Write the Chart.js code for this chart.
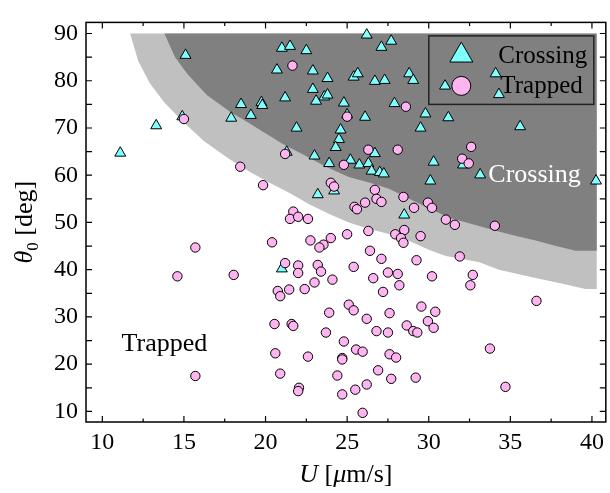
<!DOCTYPE html>
<html>
<head>
<meta charset="utf-8">
<script src="https://cdn.jsdelivr.net/npm/chart.js@4.4.0/dist/chart.umd.min.js"></script>
<style>
  html, body { margin: 0; padding: 0; background: #fff; }
  canvas { display: block; }
</style>
</head>
<body>
<canvas id="phase" width="610" height="493"></canvas>
<script>
// crossing events (triangles)
const crossingU = [11.1, 13.3, 15.1, 14.9, 17.9, 18.5, 19.1, 19.75, 19.8, 21.0, 21.5, 22.5, 20.7, 22.9, 23.8, 22.9,
  21.2, 23.6, 23.8, 23.1, 24.8, 21.9, 24.6, 24.5, 24.3, 21.3, 23.0, 23.9, 23.2, 24.2, 25.4, 25.65, 25.0, 25.2,
  25.75, 26.3, 26.5, 27.0, 27.25, 26.2, 27.1, 27.7, 26.7, 27.3, 28.8, 29.05, 27.9, 26.1, 29.8, 29.5, 31.2, 26.7,
  31.0, 34.1, 34.3, 35.6, 30.3, 32.1, 33.15, 30.1, 40.25, 28.5, 21.0];
const crossingTheta = [64.7, 70.5, 85.4, 72.4, 72.1, 75.0, 72.7, 75.4, 74.8, 86.9, 87.3, 86.4, 82.3, 82.1, 80.5, 78.2,
  76.4, 76.6, 77.0, 75.7, 75.3, 70.0, 69.6, 67.6, 65.9, 64.9, 64.1, 62.5, 55.9, 56.7, 80.8, 81.5, 72.8, 63.2,
  62.2, 62.5, 60.9, 60.6, 60.3, 89.7, 87.1, 88.4, 79.9, 80.1, 81.5, 80.1, 75.2, 72.3, 73.0, 70.0, 72.2, 64.6,
  78.9, 81.5, 77.1, 70.3, 62.8, 62.2, 60.1, 58.8, 58.8, 51.6, 40.2];

// trapped events (circles)
const trappedU = [21.65, 15.0, 18.45, 19.85, 21.2, 24.8, 25.0, 24.0, 24.2, 21.7, 21.5, 22.0, 22.6, 28.6, 26.3, 28.1,
  32.6, 32.05, 32.45, 26.7, 26.8, 27.1, 25.45, 25.6, 26.1, 28.45, 29.1, 29.95, 30.2, 31.05, 31.6, 34.05, 20.4,
  22.75, 23.55, 23.3, 24.0, 25.0, 21.2, 22.0, 22.0, 23.2, 23.4, 25.4, 24.1, 23.0, 22.4, 21.45, 20.75, 20.9, 28.5,
  29.5, 27.95, 28.3, 28.45, 26.3, 26.4, 27.1, 29.25, 31.9, 27.5, 28.1, 26.6, 30.2, 28.2, 27.2, 32.7, 32.55, 36.6,
  23.9, 25.1, 25.4, 20.55, 21.6, 21.7, 23.7, 24.8, 25.55, 20.6, 22.6, 24.7, 24.7, 20.9, 24.4, 22.05, 22.0, 24.7,
  25.5, 25.95, 26.2, 26.8, 27.5, 27.6, 29.55, 30.4, 29.95, 30.3, 28.65, 29.05, 29.3, 25.95, 27.6, 28.0, 26.9,
  27.7, 29.2, 26.2, 33.75, 34.7, 15.7, 14.6, 18.05, 15.7];
const trappedTheta = [83.2, 71.9, 61.8, 57.9, 64.5, 62.2, 72.4, 58.4, 57.6, 52.3, 50.75, 51.2, 50.75, 74.5, 65.4, 65.4,
  66.0, 63.5, 62.5, 56.9, 55.0, 54.35, 53.3, 52.8, 54.2, 55.4, 53.1, 54.2, 53.1, 50.6, 49.5, 49.3, 45.8,
  46.2, 45.3, 44.7, 46.7, 47.5, 41.4, 40.9, 39.3, 41.0, 39.6, 40.6, 37.9, 37.3, 35.9, 35.8, 35.5, 34.4, 48.4,
  47.1, 47.5, 46.7, 45.7, 48.2, 44.0, 42.3, 42.0, 42.8, 39.4, 39.1, 38.2, 38.6, 36.7, 35.3, 38.9, 36.7, 33.4,
  30.9, 32.6, 31.4, 28.5, 28.5, 28.1, 26.7, 24.8, 23.1, 22.3, 21.6, 21.3, 21.0, 18.0, 17.6, 15.0, 14.3, 13.6,
  14.6, 9.7, 29.6, 27.0, 26.7, 30.8, 32.2, 31.1, 29.1, 27.7, 28.2, 27.0, 26.7, 22.65, 22.1, 21.4, 18.7,
  16.9, 17.15, 15.7, 23.3, 15.2, 44.7, 38.6, 38.9, 17.5];

// region boundaries (outer edge of light band, edge of dark region)
const outerU = [11.7, 12.2, 12.9, 13.8, 14.95, 16.2, 17.8, 19.0, 20.25, 21.5, 22.7, 23.9, 25.1, 26.2, 27.2, 28.2,
  29.2, 30.0, 31.05, 33.1, 34.3, 36.75, 38.2, 39.6, 40.3];
const outerTheta = [90, 84.2, 79.5, 75.4, 71.3, 67.3, 63.4, 60.8, 58.4, 56.2, 53.8, 51.8, 50.0, 48.8, 47.9, 47.0,
  45.5, 44.2, 42.9, 41.6, 40.0, 38.1, 37.0, 35.9, 35.9];
const innerU = [13.8, 14.45, 15.2, 16.4, 17.8, 19.0, 21.06, 22.3, 23.7, 25.1, 26.4, 27.6, 28.8, 30.0, 31.25, 32.2,
  34.1, 35.3, 36.55, 37.8, 39.0, 40.3];
const innerTheta = [90, 85, 81.5, 77, 73.5, 71.0, 66.6, 64.4, 61.8, 59.6, 58.4, 57.1, 55.0, 53.0, 51.0, 50.1,
  48.25, 47.2, 46.2, 45.0, 44.0, 44.0];

const xTicks = [10, 15, 20, 25, 30, 35, 40];
const yTicks = [10, 20, 30, 40, 50, 60, 70, 80, 90];
const xMinor = [10, 12.5, 15, 17.5, 20, 22.5, 25, 27.5, 30, 32.5, 35, 37.5, 40];
const yMinor = [10, 15, 20, 25, 30, 35, 40, 45, 50, 55, 60, 65, 70, 75, 80, 85, 90];

const SERIF = '"Liberation Serif", "DejaVu Serif", serif';

function pts(us, ts) {
    return us.map((u, i) => ({ x: u, y: ts[i] }));
}

// draw a run of text pieces with different fonts, centred on x
function richText(ctx, parts, x, y) {
    let total = 0;
    parts.forEach(p => { ctx.font = p.font; total += ctx.measureText(p.t).width; });
    let cx = x - total / 2;
    ctx.textAlign = 'left';
    ctx.textBaseline = 'alphabetic';
    parts.forEach(p => {
        ctx.font = p.font;
        ctx.fillText(p.t, cx, y + (p.dy || 0));
        cx += ctx.measureText(p.t).width;
    });
}

const overlay = {
    id: 'overlay',
    afterDatasetDraw(chart, args) {
        if (args.index !== 1) return;
        const { ctx, chartArea: a, scales: { x, y } } = chart;
        ctx.save();
        // region labels
        ctx.font = '26px ' + SERIF;
        ctx.textAlign = 'left';
        ctx.textBaseline = 'alphabetic';
        ctx.fillStyle = '#fff';
        ctx.fillText('Crossing', x.getPixelForValue(33.65), y.getPixelForValue(58.6));
        ctx.fillStyle = '#000';
        ctx.fillText('Trapped', x.getPixelForValue(11.18), y.getPixelForValue(22.8));

        // legend box
        const bx = a.right - 177, by = a.top + 13.5;
        ctx.strokeStyle = '#222';
        ctx.lineWidth = 1.5;
        ctx.strokeRect(bx, by, 165, 68.5);
        const sx = bx + 32.5;
        ctx.lineWidth = 1;
        ctx.strokeStyle = '#000';
        // triangle
        const r = 13.3, cy = by + 19.5;
        ctx.beginPath();
        ctx.moveTo(sx, cy - r);
        ctx.lineTo(sx + r * Math.sqrt(3) / 2, cy + r / 2);
        ctx.lineTo(sx - r * Math.sqrt(3) / 2, cy + r / 2);
        ctx.closePath();
        ctx.fillStyle = '#80ffff';
        ctx.fill();
        ctx.stroke();
        // circle
        ctx.beginPath();
        ctx.arc(sx, by + 50, 9.5, 0, Math.PI * 2);
        ctx.fillStyle = '#ffb4f2';
        ctx.fill();
        ctx.stroke();
        ctx.fillStyle = '#000';
        ctx.font = '25px ' + SERIF;
        ctx.fillText('Crossing', bx + 69.5, by + 27.5);
        ctx.fillText('Trapped', bx + 71.5, by + 57.5);
        ctx.restore();
    },
    afterDraw(chart) {
        const { ctx, chartArea: a, scales: { x, y } } = chart;
        ctx.save();
        ctx.strokeStyle = '#000';
        ctx.lineWidth = 1.2;
        ctx.beginPath();
        xMinor.forEach(v => {
            const px = x.getPixelForValue(v);
            const len = v % 5 === 0 ? 6 : 3.5;
            ctx.moveTo(px, a.bottom); ctx.lineTo(px, a.bottom - len);
            ctx.moveTo(px, a.top); ctx.lineTo(px, a.top + len);
        });
        yMinor.forEach(v => {
            const py = y.getPixelForValue(v);
            ctx.moveTo(a.left, py); ctx.lineTo(a.left + 6, py);
            ctx.moveTo(a.right, py); ctx.lineTo(a.right - 6, py);
        });
        ctx.stroke();
        ctx.lineWidth = 1.5;
        ctx.strokeRect(a.left, a.top, a.right - a.left, a.bottom - a.top);

        // axis titles
        ctx.fillStyle = '#000';
        richText(ctx, [
            { t: 'U', font: 'italic 26px ' + SERIF },
            { t: ' [', font: '26px ' + SERIF },
            { t: 'μ', font: 'italic 26px ' + SERIF },
            { t: 'm/s]', font: '26px ' + SERIF }
        ], (a.left + a.right) / 2, 482);
        ctx.translate(32, (a.top + a.bottom) / 2);
        ctx.rotate(-Math.PI / 2);
        richText(ctx, [
            { t: 'θ', font: 'italic 26px ' + SERIF },
            { t: '0', font: '17px ' + SERIF, dy: 6 },
            { t: ' [deg]', font: '26px ' + SERIF }
        ], 0, 0);
        ctx.restore();
    }
};

new Chart(document.getElementById('phase'), {
    type: 'scatter',
    data: {
        datasets: [{
            type: 'line',
            data: pts(outerU, outerTheta),
            showLine: true,
            borderWidth: 0,
            borderColor: 'rgba(0,0,0,0)',
            pointRadius: 0,
            backgroundColor: '#c0c0c0',
            fill: { value: 90 },
            order: 4
        }, {
            type: 'line',
            data: pts(innerU, innerTheta),
            showLine: true,
            borderWidth: 0,
            borderColor: 'rgba(0,0,0,0)',
            pointRadius: 0,
            backgroundColor: '#808080',
            fill: { value: 90 },
            order: 3
        }, {
            label: 'Crossing',
            data: pts(crossingU, crossingTheta),
            pointStyle: 'triangle',
            pointRadius: 6.3,
            backgroundColor: '#80ffff',
            borderColor: '#000',
            borderWidth: 1,
            order: 2
        }, {
            label: 'Trapped',
            data: pts(trappedU, trappedTheta),
            pointStyle: 'circle',
            pointRadius: 4.7,
            backgroundColor: '#ffb4f2',
            borderColor: '#000',
            borderWidth: 1,
            order: 1
        }]
    },
    options: {
        responsive: false,
        animation: false,
        events: [],
        layout: { padding: { top: 7, right: 2, left: 0, bottom: 0 }, autoPadding: false },
        plugins: {
            legend: { display: false },
            tooltip: { enabled: false }
        },
        scales: {
            x: {
                type: 'linear',
                min: 9.0,
                max: 40.85,
                grid: { display: false, drawTicks: false },
                border: { display: false },
                afterBuildTicks: s => { s.ticks = xTicks.map(v => ({ value: v })); },
                afterFit: s => { s.height = 71; },
                ticks: {
                    color: '#000',
                    padding: 6,
                    maxRotation: 0,
                    font: { family: SERIF, size: 24 }
                }
            },
            y: {
                type: 'linear',
                min: 7.76,
                max: 92.35,
                grid: { display: false, drawTicks: false },
                border: { display: false },
                afterBuildTicks: s => { s.ticks = yTicks.map(v => ({ value: v })); },
                afterFit: s => { s.width = 86; },
                ticks: {
                    color: '#000',
                    padding: 8,
                    font: { family: SERIF, size: 24 }
                }
            }
        }
    },
    plugins: [overlay]
});
</script>
</body>
</html>
